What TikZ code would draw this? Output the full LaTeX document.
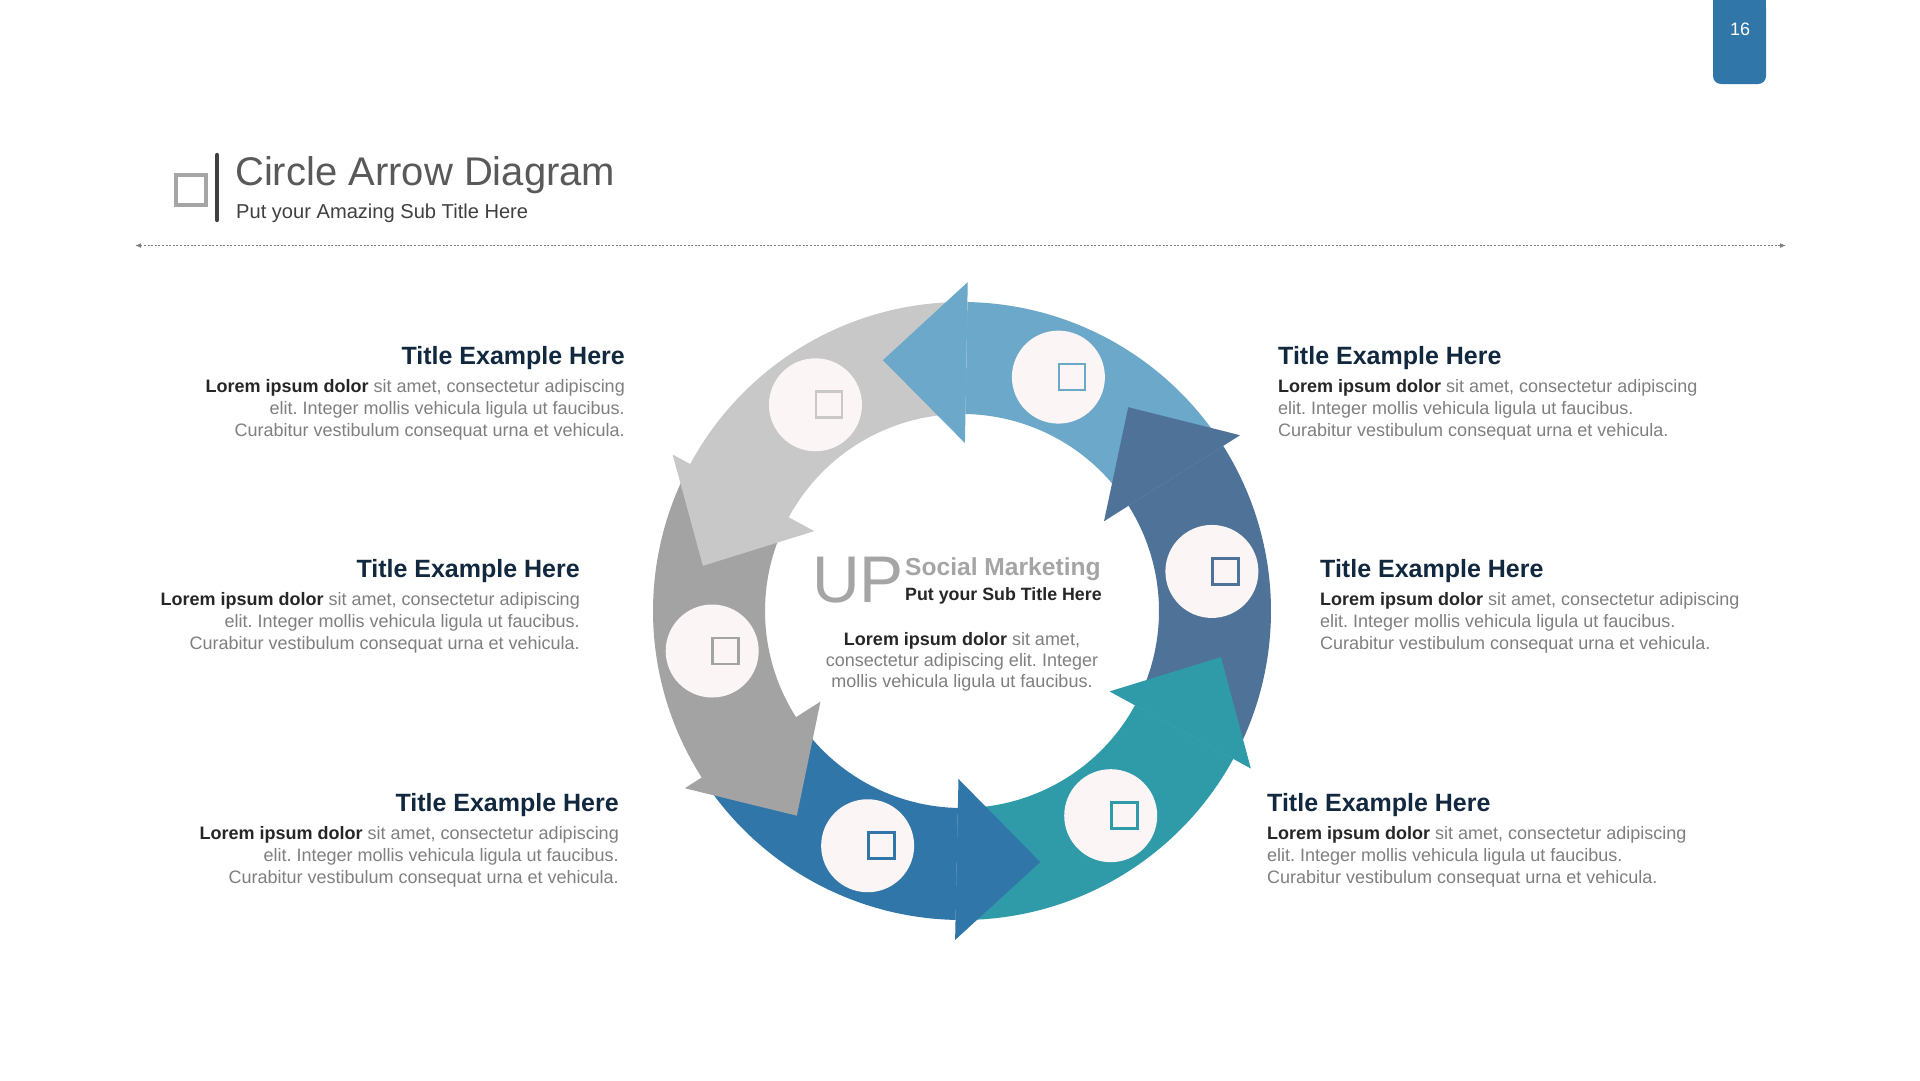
\documentclass[tikz,border=0pt]{standalone}
\usepackage{fontspec}
\setmainfont{Liberation Sans}
\usetikzlibrary{arrows.meta}
\frenchspacing
\definecolor{lblue}{HTML}{6BA8C9}
\definecolor{dslate}{HTML}{4F7298}
\definecolor{teal}{HTML}{2F9BA8}
\definecolor{dblue}{HTML}{3176A9}
\definecolor{dgray}{HTML}{A3A3A3}
\definecolor{lgray}{HTML}{C8C8C8}
\definecolor{circfill}{HTML}{FBF5F5}
\definecolor{navy}{HTML}{12283E}
\definecolor{bolddark}{HTML}{262626}
\definecolor{bodygray}{HTML}{7F7F7F}
\definecolor{upgray}{HTML}{A5A5A5}
\definecolor{titlegray}{HTML}{595959}
\definecolor{subgray}{HTML}{404040}
\definecolor{dotc}{HTML}{808080}
\definecolor{pgblue}{HTML}{3176A9}
\tikzset{
  ttl/.style={font=\fontsize{25}{25}\selectfont\bfseries, text=navy, inner sep=0pt},
  bdy/.style={font=\fontsize{18}{18}\selectfont, text=bodygray, inner sep=0pt},
  iconcirc/.style={circle, fill=circfill, minimum size=93pt, inner sep=0pt},
  iconsq/.style={draw=#1, line width=2.7pt, minimum size=26pt, inner sep=0pt}
}
\newcommand{\firstline}{\textbf{\color{bolddark}Lorem ipsum dolor} sit amet, consectetur adipiscing}
\newcommand{\secondline}{elit. Integer mollis vehicula ligula ut faucibus.}
\newcommand{\thirdline}{Curabitur vestibulum consequat urna et vehicula.}
% #1 name, #2 x, #3 title baseline (image y), #4 anchor side
\newcommand{\sideblock}[4]{%
  \node[ttl, anchor=base #4] (#1t) at (#2,-#3) {Title Example Here};
  \node[bdy, anchor=base #4] (#1a) at (#2,-#3-28.5) {\firstline};
  \node[bdy, anchor=base #4] (#1b) at (#2,-#3-50.5) {\secondline};
  \node[bdy, anchor=base #4] (#1c) at (#2,-#3-72.5) {\thirdline};
}
\begin{document}
\begin{tikzpicture}[x=1pt,y=1pt]
\useasboundingbox (0,0) rectangle (1920,-1080);
\fill[white] (0,0) rectangle (1920,-1080);

% page number tab
\fill[pgblue, rounded corners=8pt] (1713,0) rectangle (1766,-84);
\fill[pgblue] (1713,0) rectangle (1766,-40);
\node[text=white, font=\fontsize{18}{18}\selectfont, inner sep=0pt] (pgnum) at (1740,-29) {16};

% header
\node[draw=upgray, line width=3.5pt, minimum size=30pt, inner sep=0pt] (hsq) at (191,-190) {};
\coordinate (bartop) at (217,-155);
\coordinate (barbot) at (217,-220);
\draw[subgray, line width=4.3pt, line cap=round] (bartop) -- (barbot);
\node[anchor=base west, font=\fontsize{40}{40}\selectfont, text=titlegray, inner sep=0pt] (title) at (235,-185.5) {Circle Arrow Diagram};
\node[anchor=base west, font=\fontsize{20.1}{20.1}\selectfont, text=subgray, inner sep=0pt] (subtitle) at (236,-218.7) {Put your Amazing Sub Title Here};
\coordinate (dl) at (135,-245.5);
\coordinate (dr) at (1786,-245.5);
\draw[dotc, line width=1.5pt, dash pattern=on 2pt off 1.6pt, {Latex[length=6pt,width=5pt]}-{Latex[length=6pt,width=5pt]}] (dl) -- (dr);

% ring
\begin{scope}[shift={(962,-611)}]
  \foreach \n/\b/\e/\c in {lb/89/32.3/lblue, ds/32.3/-28.6/dslate, te/-28.6/-91.2/teal, db/-91.2/-147.4/dblue, dg/212.6/151.6/dgray, lg/151.6/89/lgray}{
    \fill[\c] (\e:197pt) arc[start angle=\e, end angle=\b, radius=197pt] -- (\b:309pt) arc[start angle=\b, end angle=\e, radius=309pt] -- cycle;
  }
  \foreach \b/\c in {89/lblue, 32.3/dslate, -28.6/teal, -91.2/dblue, 212.6/dgray, 151.6/lgray}{
    \fill[\c] (\b:168pt) -- (\b+18.5:263pt) -- (\b:329pt) -- cycle;
  }
  \foreach \n/\a/\c in {lb/67.6/lblue, ds/9/dslate, te/-54/teal, db/-111.9/dblue, dg/189.1/dgray, lg/125.4/lgray}{
    \node[iconcirc] (c\n) at (\a:253pt) {};
    \node[iconsq=\c] (s\n) at ([xshift=13.5pt]c\n.center) {};
  }
\end{scope}

% centre text
\node[anchor=base west, font=\fontsize{66}{66}\selectfont, text=upgray, inner sep=0pt] (up) at (812,-602) {UP};
\node[anchor=base west, font=\fontsize{24.6}{24.6}\selectfont\bfseries, text=upgray, inner sep=0pt] (social) at (905,-575) {Social Marketing};
\node[anchor=base west, font=\fontsize{17.8}{17.8}\selectfont\bfseries, text=bolddark, inner sep=0pt] (csub) at (905,-600) {Put your Sub Title Here};
\node[bdy, anchor=base] (cb1) at (962,-645) {\textbf{\color{bolddark}Lorem ipsum dolor} sit amet,};
\node[bdy, anchor=base] (cb2) at (962,-666.4) {consectetur adipiscing elit. Integer};
\node[bdy, anchor=base] (cb3) at (962,-687.8) {mollis vehicula ligula ut faucibus.};

% side blocks
\sideblock{lt}{625}{364}{east}
\sideblock{lm}{580}{577}{east}
\sideblock{lbk}{619}{811}{east}
\sideblock{rt}{1278}{364}{west}
\sideblock{rm}{1320}{577}{west}
\sideblock{rbk}{1267}{811}{west}
\end{tikzpicture}
\end{document}
